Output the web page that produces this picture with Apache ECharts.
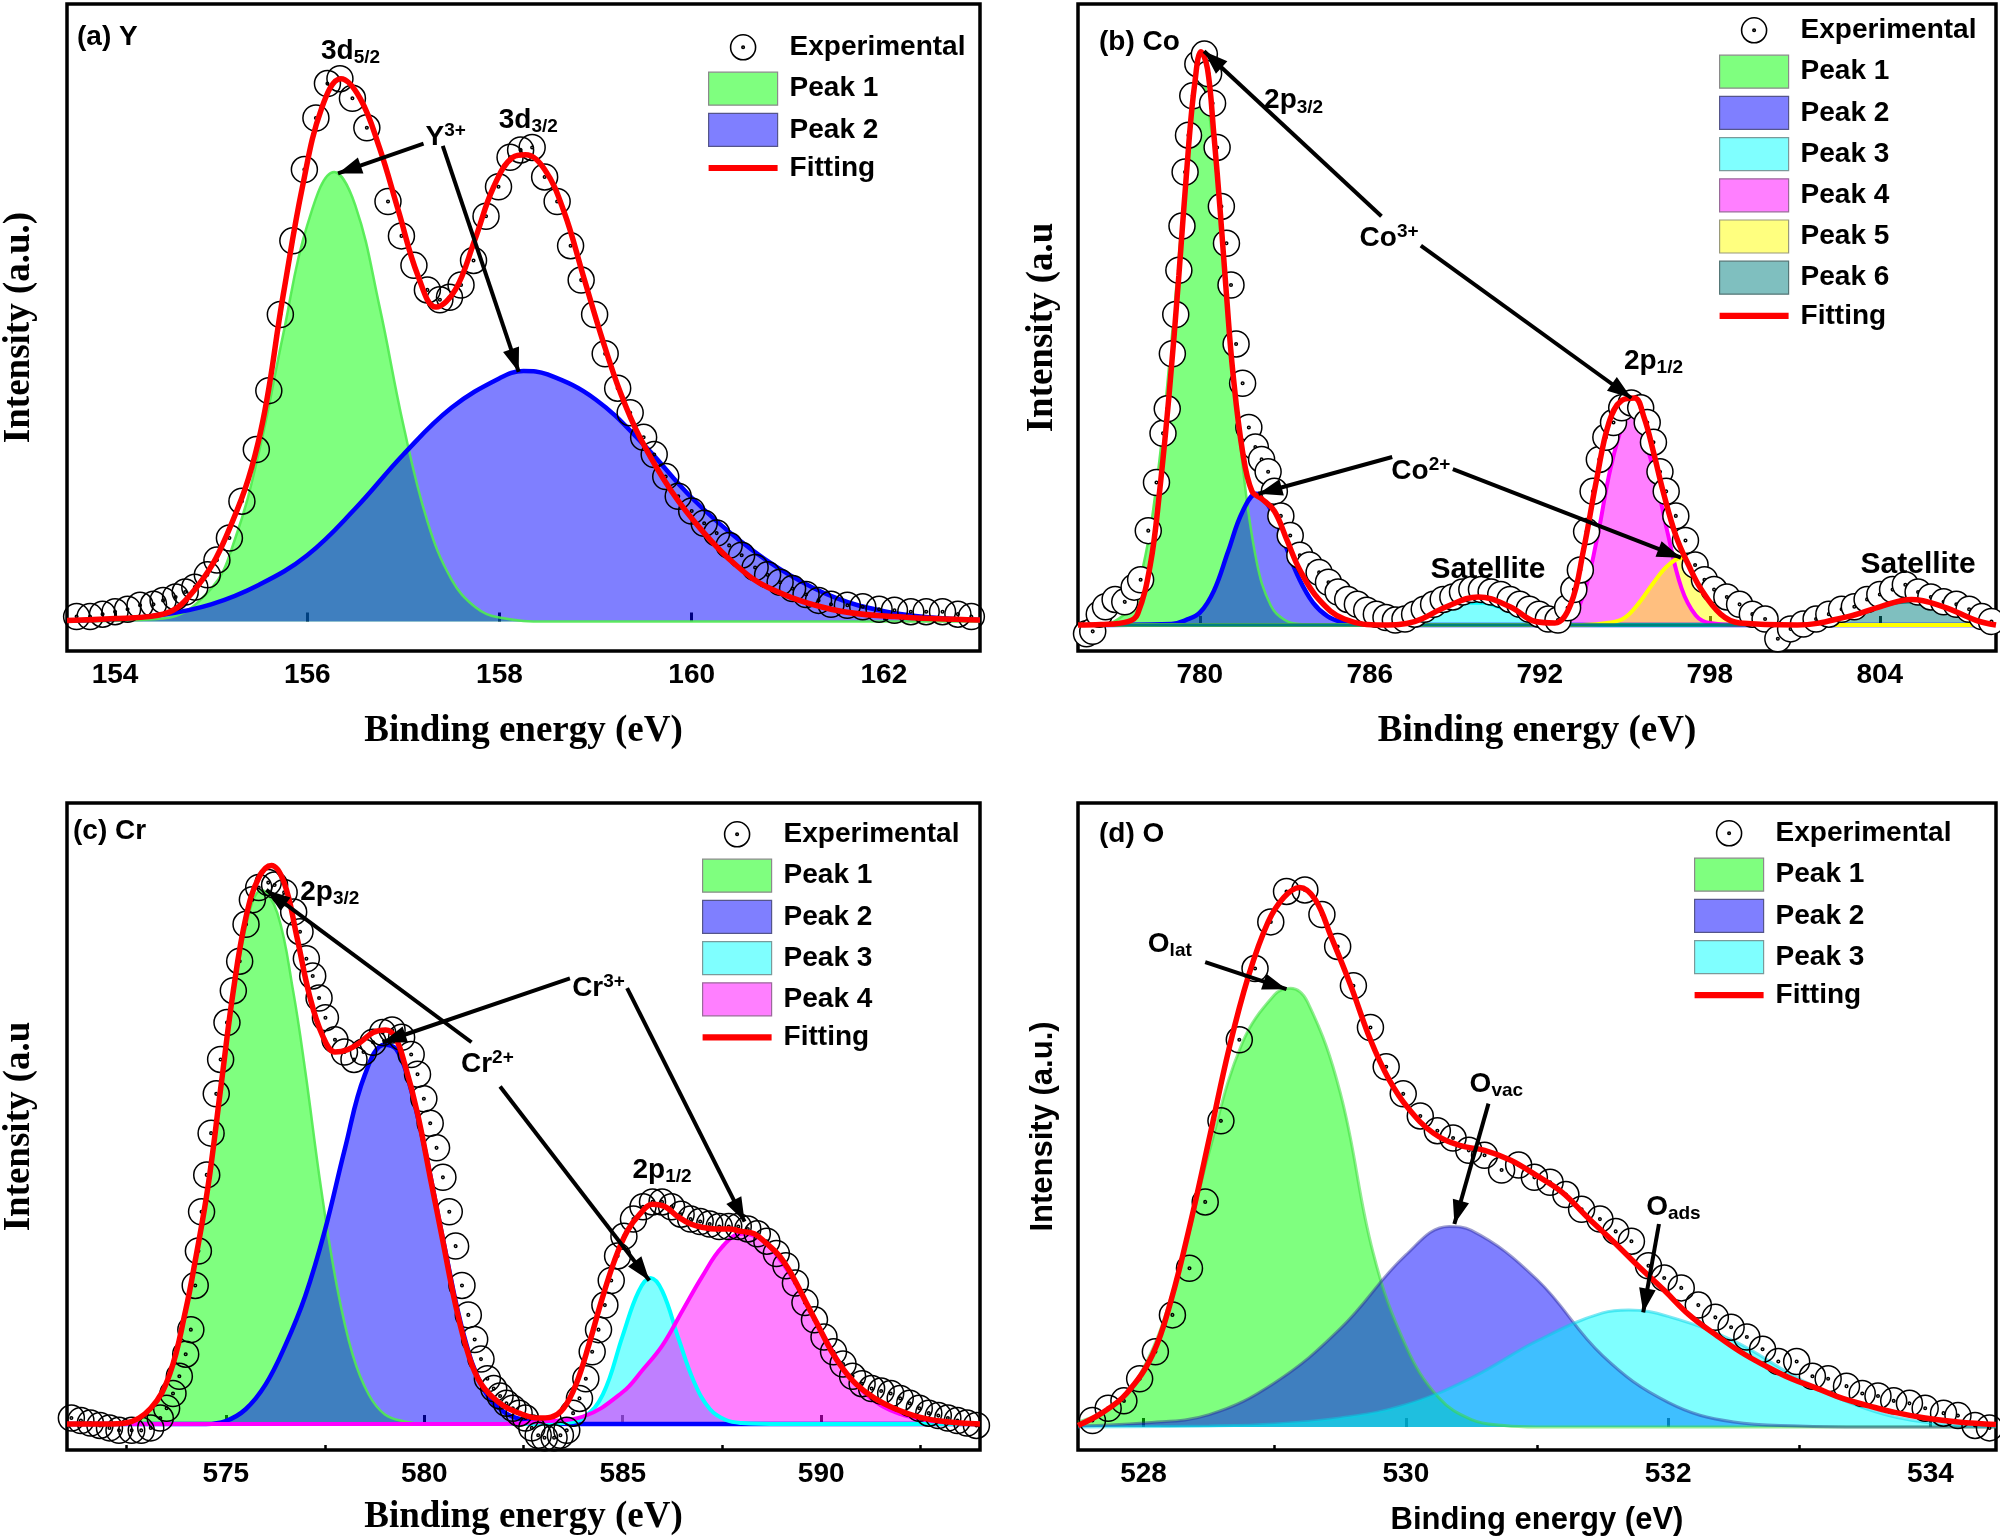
<!DOCTYPE html>
<html>
<head>
<meta charset="utf-8">
<title>XPS Y / Co / Cr / O</title>
<script src="https://cdn.jsdelivr.net/npm/echarts@6/dist/echarts.min.js"></script>
<style>
  html, body { margin: 0; padding: 0; background: #fff; }
  #main { width: 2000px; height: 1540px; }
</style>
</head>
<body>
<div id="main"></div>
<script>
// ---------- data: [binding energy (eV), intensity (a.u.)] ----------

// (a) Y 3d
var aExp = [[153.60,10],[153.74,10],[153.87,15],[154.00,20],[154.13,25],[154.26,33],[154.40,35],[154.50,43],[154.63,50],[154.73,60],[154.83,70],[154.96,95],[155.06,125],[155.19,170],[155.32,245],[155.47,350],[155.60,470],[155.72,625],[155.85,775],[155.97,920],[156.09,1025],[156.21,1095],[156.34,1105],[156.47,1065],[156.62,1005],[156.84,855],[156.98,785],[157.11,725],[157.25,675],[157.38,655],[157.48,660],[157.60,685],[157.73,735],[157.86,825],[157.99,885],[158.11,945],[158.22,960],[158.34,965],[158.47,905],[158.60,855],[158.74,765],[158.85,695],[158.99,625],[159.10,545],[159.23,475],[159.36,425],[159.50,375],[159.61,340],[159.73,295],[159.86,255],[160.00,225],[160.13,200],[160.26,180],[160.39,155],[160.52,135],[160.66,110],[160.79,95],[160.92,80],[161.05,67],[161.19,55],[161.32,43],[161.45,35],[161.62,33],[161.78,30],[161.95,25],[162.11,23],[162.28,20],[162.44,20],[162.61,20],[162.77,15],[162.91,10]];
var aPeak1 = [[153.5,0],[154.5,6],[155.0,67],[155.25,169],[155.5,347],[155.75,585],[156.0,807],[156.28,915],[156.5,847],[156.75,643],[157.0,400],[157.25,204],[157.5,86],[157.75,29],[158.0,8],[158.5,0],[163.0,0]];
var aPeak2 = [[153.5,2],[154.0,5],[154.5,14],[155.0,35],[155.5,75],[156.0,135],[156.5,230],[157.0,340],[157.5,435],[158.0,495],[158.25,510],[158.5,503],[159.0,452],[159.5,360],[160.0,252],[160.5,165],[161.0,97],[161.5,48],[162.0,21],[162.5,8],[163.0,3]];
var aFit = [[153.5,2],[154.0,6],[154.5,15],[154.83,65],[155.16,175],[155.49,365],[155.75,665],[155.95,885],[156.15,1045],[156.35,1105],[156.55,1065],[156.75,965],[156.95,835],[157.15,705],[157.34,640],[157.54,675],[157.74,775],[157.94,885],[158.14,945],[158.27,950],[158.47,920],[158.67,835],[158.87,705],[159.07,575],[159.26,465],[159.46,375],[159.79,265],[160.13,180],[160.46,115],[160.79,70],[161.45,25],[162.11,10],[163.0,3]];
var aTicks = [154, 156, 158, 160, 162];

// (b) Co 2p
var bExp = [[776.00,-18],[776.22,-13],[776.45,22],[776.67,37],[777.01,52],[777.35,47],[777.68,77],[777.91,92],[778.18,192],[778.47,290],[778.70,390],[778.85,440],[779.03,552],[779.15,632],[779.26,722],[779.37,812],[779.48,922],[779.60,997],[779.75,1077],[779.93,1142],[780.16,1162],[780.31,1122],[780.45,1062],[780.61,972],[780.76,852],[780.94,777],[781.10,692],[781.28,572],[781.51,492],[781.73,402],[781.96,362],[782.18,337],[782.41,312],[782.63,272],[782.86,222],[783.19,182],[783.53,142],[783.87,122],[784.21,107],[784.54,87],[784.88,67],[785.22,52],[785.56,42],[785.89,30],[786.23,22],[786.57,15],[786.90,10],[787.24,12],[787.58,22],[787.92,32],[788.25,42],[788.59,52],[788.93,57],[789.27,67],[789.60,72],[789.94,72],[790.28,67],[790.62,62],[790.95,52],[791.29,42],[791.63,32],[791.97,22],[792.30,12],[792.64,10],[792.98,35],[793.20,72],[793.43,112],[793.65,190],[793.88,272],[794.10,337],[794.33,382],[794.60,412],[794.89,442],[795.23,452],[795.56,442],[795.79,412],[796.01,372],[796.24,312],[796.46,272],[796.80,222],[797.14,172],[797.48,122],[797.81,92],[798.15,72],[798.60,57],[799.05,42],[799.50,22],[799.95,12],[800.40,-28],[800.85,-8],[801.30,2],[801.75,12],[802.20,22],[802.65,32],[803.10,37],[803.55,52],[804.00,62],[804.45,72],[804.90,82],[805.35,67],[805.80,57],[806.25,47],[806.70,42],[807.15,32],[807.60,17],[807.94,7]];
var bPeak1 = [[775.7,0],[776.5,2],[777.0,8],[777.5,35],[778.0,120],[778.5,300],[779.0,580],[779.5,900],[780.0,1132],[780.5,960],[781.0,640],[781.5,330],[782.0,130],[782.5,40],[783.0,10],[783.5,2],[784.5,0],[808.1,0]];
var bPeak2 = [[775.7,0],[779.0,2],[779.5,10],[780.0,25],[780.5,70],[781.0,150],[781.5,230],[782.0,267],[782.5,235],[783.0,165],[783.5,95],[784.0,45],[784.5,18],[785.0,6],[785.5,2],[786.5,0],[808.1,0]];
var bPeak3 = [[775.7,0],[786.5,0],[787.0,3],[787.5,10],[788.0,20],[788.5,32],[789.0,40],[789.5,45],[790.0,45],[790.5,38],[791.0,27],[791.5,15],[792.0,6],[792.5,2],[793.5,0],[808.1,0]];
var bPeak4 = [[775.7,0],[792.0,0],[793.0,10],[793.5,55],[794.0,170],[794.5,320],[795.0,420],[795.25,432],[795.5,410],[796.0,320],[796.5,190],[797.0,75],[797.5,20],[798.0,4],[799.0,0],[808.1,0]];
var bPeak5 = [[775.7,0],[793.5,0],[794.5,5],[795.0,15],[795.5,45],[796.0,85],[796.5,120],[797.0,137],[797.5,105],[798.0,50],[798.5,15],[799.0,4],[800.0,0],[808.1,0]];
var bPeak6 = [[775.7,0],[800.0,0],[801.0,2],[802.0,8],[803.0,22],[804.0,38],[805.0,47],[806.0,40],[807.0,25],[808.1,12]];
var bFit = [[775.7,0],[776.5,1],[777.46,7],[777.80,22],[778.25,122],[778.58,272],[778.92,472],[779.26,712],[779.60,972],[779.82,1102],[780.04,1167],[780.27,1132],[780.49,1002],[780.72,842],[780.94,672],[781.17,512],[781.51,352],[781.84,272],[782.18,257],[782.63,232],[783.08,172],[783.53,112],[784.20,52],[785.10,12],[786.46,0],[787.58,7],[788.70,37],[789.83,57],[790.95,37],[791.85,7],[792.53,4],[793.09,42],[793.54,152],[793.99,292],[794.44,412],[794.89,457],[795.34,462],[795.68,422],[796.01,352],[796.35,272],[796.80,182],[797.25,122],[797.70,72],[798.38,22],[799.05,4],[801.08,0],[802.87,17],[804.00,37],[805.12,52],[806.25,37],[807.37,10],[808.1,0]];
var bTicks = [780, 786, 792, 798, 804];

// (c) Cr 2p
var cExp = [[571.11,12],[571.35,7],[571.59,2],[571.83,-3],[572.07,-8],[572.31,-13],[572.63,-13],[572.87,-13],[573.11,-8],[573.35,12],[573.51,32],[573.67,62],[573.83,97],[573.99,142],[574.12,192],[574.23,282],[574.31,352],[574.39,432],[574.52,507],[574.63,592],[574.76,672],[574.87,742],[575.03,817],[575.19,882],[575.35,942],[575.51,1017],[575.67,1067],[575.83,1092],[576.07,1102],[576.23,1097],[576.47,1082],[576.71,1042],[576.87,1002],[577.03,947],[577.19,912],[577.35,867],[577.51,827],[577.75,782],[577.99,757],[578.23,742],[578.47,757],[578.71,777],[578.95,797],[579.19,802],[579.43,787],[579.67,752],[579.83,712],[579.99,662],[580.15,612],[580.31,562],[580.47,502],[580.63,432],[580.79,362],[580.95,282],[581.11,222],[581.27,172],[581.43,132],[581.59,92],[581.75,72],[581.91,57],[582.07,42],[582.23,32],[582.39,22],[582.55,12],[582.71,-8],[582.87,-23],[583.03,-28],[583.27,-28],[583.43,-23],[583.59,-13],[583.75,22],[583.91,52],[584.07,92],[584.23,147],[584.39,192],[584.55,242],[584.71,292],[584.87,342],[585.03,382],[585.27,417],[585.51,442],[585.75,452],[585.99,452],[586.23,442],[586.47,427],[586.71,417],[586.95,412],[587.19,407],[587.43,402],[587.67,402],[587.91,402],[588.15,397],[588.39,387],[588.63,372],[588.87,347],[589.11,322],[589.35,287],[589.59,247],[589.83,212],[590.07,177],[590.31,147],[590.55,122],[590.79,97],[591.03,82],[591.27,72],[591.51,67],[591.75,62],[591.99,52],[592.23,42],[592.47,32],[592.71,22],[592.95,17],[593.19,12],[593.43,7],[593.67,2],[593.91,-3]];
var cPeak1 = [[571.0,0],[572.0,0],[572.5,2],[573.0,25],[573.5,85],[574.0,230],[574.5,455],[575.0,760],[575.5,1010],[575.9,1087],[576.3,1040],[576.7,880],[577.0,720],[577.4,480],[577.8,280],[578.2,140],[578.6,60],[579.0,20],[579.5,5],[580.0,0],[594.0,0]];
var cPeak2 = [[571.0,0],[574.5,0],[575.0,6],[575.5,30],[576.0,80],[576.5,160],[577.0,260],[577.5,395],[578.0,560],[578.5,710],[579.0,772],[579.3,762],[579.6,700],[580.0,565],[580.5,365],[581.0,180],[581.5,70],[582.0,25],[582.5,8],[583.0,2],[584.0,0],[594.0,0]];
var cPeak3 = [[571.0,0],[583.0,0],[583.5,2],[584.0,12],[584.5,60],[585.0,180],[585.4,270],[585.7,297],[586.0,270],[586.4,175],[586.8,85],[587.2,30],[587.6,8],[588.0,2],[589.0,0],[594.0,0]];
var cPeak4 = [[571.0,0],[582.0,0],[583.0,5],[584.0,15],[585.0,65],[585.5,110],[586.0,160],[586.5,230],[587.0,300],[587.5,360],[588.0,387],[588.5,375],[589.0,330],[589.5,265],[590.0,190],[590.5,120],[591.0,70],[591.5,38],[592.0,20],[592.5,10],[593.0,4],[594.0,1]];
var cFit = [[571.0,0],[572.0,0],[572.47,2],[573.11,32],[573.59,102],[573.99,232],[574.23,332],[574.55,482],[574.87,682],[575.19,882],[575.51,1032],[575.83,1112],[576.15,1137],[576.47,1102],[576.79,992],[577.11,872],[577.43,792],[577.75,757],[578.07,762],[578.39,777],[578.71,797],[579.03,802],[579.27,787],[579.51,732],[579.83,632],[580.15,502],[580.47,372],[580.79,242],[581.11,142],[581.43,82],[581.91,42],[582.39,22],[582.87,12],[583.19,14],[583.51,32],[583.83,82],[584.15,162],[584.47,252],[584.79,332],[585.11,392],[585.43,427],[585.75,447],[586.07,442],[586.39,422],[586.71,407],[587.03,400],[587.35,397],[587.67,397],[587.99,392],[588.31,387],[588.63,367],[588.95,342],[589.27,302],[589.59,252],[589.91,202],[590.23,152],[590.55,112],[590.87,82],[591.35,52],[591.83,32],[592.47,14],[593.11,5],[594.0,0]];
var cTicks = [575, 580, 585, 590];
var cMinorTicks = [572.5, 577.5, 582.5, 587.5, 592.5];

// (d) O 1s
var dExp = [[527.61,13],[527.73,38],[527.85,53],[527.97,98],[528.09,153],[528.22,228],[528.35,323],[528.47,458],[528.59,623],[528.73,788],[528.85,933],[528.97,1028],[529.09,1090],[529.23,1093],[529.36,1043],[529.48,978],[529.60,898],[529.73,813],[529.85,733],[529.98,678],[530.11,633],[530.24,603],[530.36,588],[530.48,563],[530.60,553],[530.73,523],[530.86,533],[530.98,508],[531.10,498],[531.22,473],[531.34,443],[531.48,423],[531.60,398],[531.72,378],[531.85,328],[531.97,303],[532.10,283],[532.23,248],[532.36,223],[532.48,203],[532.60,183],[532.72,158],[532.84,133],[532.98,133],[533.10,103],[533.22,98],[533.36,83],[533.48,68],[533.60,63],[533.72,53],[533.84,48],[533.96,38],[534.10,28],[534.21,23],[534.34,3],[534.45,-2]];
var dPeak1 = [[527.5,10],[527.75,40],[528.0,120],[528.25,300],[528.5,560],[528.75,780],[529.0,880],[529.12,893],[529.25,865],[529.5,680],[529.75,355],[530.0,165],[530.25,60],[530.5,15],[530.75,3],[531.0,0],[534.5,0]];
var dPeak2 = [[527.5,2],[528.0,8],[528.5,25],[529.0,90],[529.5,200],[530.0,350],[530.33,408],[530.5,400],[531.0,300],[531.5,145],[532.0,50],[532.5,10],[533.0,2],[533.5,0],[534.5,0]];
var dPeak3 = [[527.5,0],[528.5,2],[529.0,6],[529.5,18],[530.0,45],[530.5,100],[531.0,175],[531.5,232],[531.7,238],[532.0,225],[532.5,175],[533.0,98],[533.5,38],[534.0,8],[534.5,1]];
var dFit = [[527.5,3],[527.68,28],[527.87,68],[528.07,148],[528.21,258],[528.36,418],[528.51,598],[528.65,768],[528.80,918],[528.95,1028],[529.07,1078],[529.19,1098],[529.31,1073],[529.43,998],[529.58,898],[529.73,788],[529.87,708],[530.02,648],[530.21,598],[530.41,573],[530.60,563],[530.80,543],[530.99,513],[531.19,478],[531.38,428],[531.58,378],[531.77,328],[531.97,278],[532.16,228],[532.36,188],[532.55,153],[532.75,123],[532.94,98],[533.14,78],[533.33,58],[533.53,43],[533.72,30],[533.96,18],[534.21,10],[534.5,5]];
var dTicks = [528, 530, 532, 534];
var dMinorTicks = [529, 531, 533];

// annotations: [eV, intensity, text] and arrows [fromEV, fromI, toEV, toI]
var aNotes = [[156.45, 1160, '3d{sub|5/2}'], [158.30, 1020, '3d{sub|3/2}'], [157.44, 985, 'Y{sup|3+}']];
var aArrows = [[157.21, 973, 156.32, 912], [157.41, 968, 158.20, 508]];
var bNotes = [[783.31, 1067, '2p{sub|3/2}'], [786.68, 787, 'Co{sup|3+}'], [796.01, 537, '2p{sub|1/2}'], [787.80, 312, 'Co{sup|2+}'], [790.17, 112, '{sat|Satellite}'], [805.35, 122, '{sat|Satellite}']];
var bArrows = [[786.41, 832, 780.15, 1168], [787.80, 772, 795.23, 462], [786.79, 342, 782.07, 267], [788.93, 317, 796.98, 137]];
var cNotes = [[577.62, 1082, '2p{sub|3/2}'], [584.39, 887, 'Cr{sup|3+}'], [581.59, 732, 'Cr{sup|2+}'], [585.99, 517, '2p{sub|1/2}']];
var cArrows = [[583.67, 907, 578.95, 777], [585.11, 887, 588.07, 412], [581.19, 777, 576.02, 1087], [581.91, 687, 585.67, 292]];
var dNotes = [[528.20, 983, 'O{sub|lat}'], [530.69, 698, 'O{sub|vac}'], [532.04, 448, 'O{sub|ads}']];
var dArrows = [[528.47, 946, 529.09, 891], [530.63, 658, 530.37, 413], [531.93, 413, 531.81, 233]];

// ---------- styles ----------
var SANS = '"Liberation Sans", Arial, sans-serif';
var SERIF = '"Liberation Serif", "Times New Roman", serif';

var dotCircle = 'path://M50,0A50,50 0 1 1 49.99,0ZM50,45A5,5 0 1 1 49.99,45Z';
var legendCircle = 'path://M-16,-16L-15.99,-16M116,116L116.01,116M50,0A50,50 0 1 1 49.99,0ZM50,45A5,5 0 1 1 49.99,45Z';
var legendLine = 'path://M0,0L100,0L100,9L0,9Z';
var arrowHead = 'path://M7,0L7.01,0M7,20L14,40L0,40Z';

var peakLook = {
  'Peak 1': { fill: 'rgba(0,255,0,0.5)', line: 'rgba(80,235,80,0.9)', width: 2.5, soft: 'rgba(60,220,60,0.55)', edge: '#8a8a8a' },
  'Peak 2': { fill: 'rgba(0,0,255,0.5)', line: '#0000ff', width: 4.5, soft: 'rgba(40,40,150,0.45)', edge: '#55558a' },
  'Peak 3': { fill: 'rgba(0,255,255,0.5)', line: '#00ffff', width: 4, soft: 'rgba(0,210,230,0.5)', edge: '#7a9a9a' },
  'Peak 4': { fill: 'rgba(255,0,255,0.5)', line: '#ff00ff', width: 4, soft: '#ff00ff', edge: '#9a6a9a' },
  'Peak 5': { fill: 'rgba(255,255,0,0.5)', line: '#ffff00', width: 4, soft: '#ffff00', edge: '#9a9a7a' },
  'Peak 6': { fill: 'rgba(0,128,128,0.5)', line: '#008080', width: 3.5, soft: '#008080', edge: '#557777' }
};

var panels = [
  { label: '(a) Y', left: 62, top: 4, xMin: 153.5, xMax: 163, yMin: -60, yMax: 1257,
    ticks: aTicks, minor: null, yName: 'Intensity (a.u.)', nameFont: SERIF, nameSize: 37, xGap: 62, yGap: 29,
    exp: aExp, expFill: 'rgba(255,255,255,0)', peaks: [['Peak 1', aPeak1], ['Peak 2', aPeak2]], fit: aFit,
    notes: aNotes, arrows: aArrows, legendLeft: 708, legendTop: 30, labelLeft: 77, labelTop: 23, soft: false },
  { label: '(b) Co', left: 1078, top: 4, xMin: 775.7, xMax: 808.1, yMin: -53, yMax: 1264,
    ticks: bTicks, minor: null, yName: 'Intensity (a.u', nameFont: SERIF, nameSize: 37, xGap: 62, yGap: 17,
    exp: bExp, expFill: '#ffffff', peaks: [['Peak 1', bPeak1], ['Peak 2', bPeak2], ['Peak 3', bPeak3], ['Peak 4', bPeak4], ['Peak 5', bPeak5], ['Peak 6', bPeak6]], fit: bFit,
    notes: bNotes, arrows: bArrows, legendLeft: 1719, legendTop: 13, labelLeft: 1099, labelTop: 28, soft: false },
  { label: '(c) Cr', left: 62, top: 803, xMin: 571, xMax: 594, yMin: -53, yMax: 1264,
    ticks: cTicks, minor: cMinorTicks, yName: 'Intensity (a.u', nameFont: SERIF, nameSize: 37, xGap: 49, yGap: 29,
    exp: cExp, expFill: 'rgba(255,255,255,0)', peaks: [['Peak 1', cPeak1], ['Peak 2', cPeak2], ['Peak 3', cPeak3], ['Peak 4', cPeak4]], fit: cFit,
    notes: cNotes, arrows: cArrows, legendLeft: 702, legendTop: 817, labelLeft: 73, labelTop: 817, soft: false },
  { label: '(d) O', left: 1078, top: 803, xMin: 527.5, xMax: 534.5, yMin: -47, yMax: 1270,
    ticks: dTicks, minor: dMinorTicks, yName: 'Intensity (a.u.)', nameFont: SANS, nameSize: 31, xGap: 55, yGap: 19,
    exp: dExp, expFill: 'rgba(255,255,255,0)', peaks: [['Peak 1', dPeak1], ['Peak 2', dPeak2], ['Peak 3', dPeak3]], fit: dFit,
    notes: dNotes, arrows: dArrows, legendLeft: 1694, legendTop: 816, labelLeft: 1099, labelTop: 820, soft: true }
];

var grids = [], xAxes = [], yAxes = [], series = [], legends = [], titles = [];

panels.forEach(function (p, i) {
  grids.push({
    left: p.left, top: p.top, width: 918, height: 647,
    show: true, borderColor: '#000', borderWidth: 3.5, backgroundColor: 'transparent'
  });

  xAxes.push({
    gridIndex: i, type: 'value', min: p.xMin, max: p.xMax,
    name: 'Binding energy (eV)', nameLocation: 'middle', nameGap: p.xGap,
    nameTextStyle: { color: '#000', fontWeight: 'bold', fontFamily: p.nameFont, fontSize: p.nameSize },
    axisLine: { show: false },
    axisTick: { show: true, inside: true, length: 9, customValues: p.ticks, lineStyle: { color: '#000', width: 3 } },
    axisLabel: { customValues: p.ticks, margin: 10, fontSize: 28, color: '#000', fontWeight: 'bold', fontFamily: SANS },
    splitLine: { show: false }
  });

  yAxes.push({
    gridIndex: i, type: 'value', min: p.yMin, max: p.yMax,
    name: p.yName, nameLocation: 'middle', nameGap: p.yGap,
    nameTextStyle: { color: '#000', fontWeight: 'bold', fontFamily: p.nameFont, fontSize: p.nameSize },
    axisLine: { show: false }, axisTick: { show: false }, axisLabel: { show: false }, splitLine: { show: false }
  });

  // fitted peak areas
  p.peaks.forEach(function (pk) {
    var look = peakLook[pk[0]];
    series.push({
      name: pk[0], type: 'line', xAxisIndex: i, yAxisIndex: i,
      data: pk[1], smooth: 0.4, symbol: 'none', silent: true, z: 2,
      lineStyle: { color: p.soft ? look.soft : look.line, width: p.soft ? 3 : look.width },
      areaStyle: { color: look.fill, opacity: 1 },
      itemStyle: { color: look.fill }
    });
  });

  // experimental points
  series.push({
    name: 'Experimental', type: 'scatter', xAxisIndex: i, yAxisIndex: i,
    data: p.exp, symbol: dotCircle, symbolSize: 26, silent: true, z: 3,
    itemStyle: { color: p.expFill, borderColor: '#000', borderWidth: 1.5, opacity: 1 }
  });

  // envelope + annotations
  series.push({
    name: 'Fitting', type: 'line', xAxisIndex: i, yAxisIndex: i,
    data: p.fit, smooth: 0.4, symbol: 'none', silent: true, z: 4,
    lineStyle: { color: '#ff0000', width: 5.5 },
    itemStyle: { color: '#ff0000' },
    markLine: {
      silent: true, symbol: ['none', arrowHead], symbolSize: 48, symbolKeepAspect: true,
      lineStyle: { color: '#000', width: 4, type: 'solid', opacity: 1 },
      label: { show: false },
      data: p.arrows.map(function (a) { return [{ coord: [a[0], a[1]] }, { coord: [a[2], a[3]] }]; })
    },
    markPoint: {
      silent: true, symbol: 'circle', symbolSize: 1,
      itemStyle: { color: 'rgba(0,0,0,0)' },
      label: {
        show: true, position: 'inside', color: '#000', fontSize: 28, fontWeight: 'bold', fontFamily: SANS, lineHeight: 32,
        rich: {
          sub: { fontSize: 19, fontWeight: 'bold', fontFamily: SANS, color: '#000', lineHeight: 19, verticalAlign: 'bottom' },
          sup: { fontSize: 19, fontWeight: 'bold', fontFamily: SANS, color: '#000', lineHeight: 19, verticalAlign: 'top' },
          sat: { fontSize: 30, fontWeight: 'bold', fontFamily: SANS, color: '#000', lineHeight: 32 }
        }
      },
      data: p.notes.map(function (n) { return { coord: [n[0], n[1]], label: { formatter: n[2] } }; })
    }
  });

  var items = [{ name: 'Experimental', icon: legendCircle, itemStyle: { color: 'rgba(255,255,255,0)', borderColor: '#000', borderWidth: 1.6 } }];
  p.peaks.forEach(function (pk) {
    var look = peakLook[pk[0]];
    items.push({ name: pk[0], icon: 'rect', itemStyle: { color: look.fill, borderColor: look.edge, borderWidth: 1.2 } });
  });
  items.push({ name: 'Fitting', icon: legendLine, itemStyle: { color: '#ff0000', borderWidth: 0 } });

  legends.push({
    left: p.legendLeft, top: p.legendTop, orient: 'vertical', padding: 0,
    itemWidth: 69, itemHeight: 33, itemGap: 7, selectedMode: false,
    textStyle: { color: '#000', fontSize: 28, fontWeight: 'bold', fontFamily: SANS, padding: [0, 0, 0, 7] },
    data: items
  });

  titles.push({
    text: p.label, left: p.labelLeft, top: p.labelTop, padding: 0,
    textStyle: { color: '#000', fontSize: 28, fontWeight: 'bold', fontFamily: SANS }
  });
});

// minor tick overlays for (c) and (d)
panels.forEach(function (p, i) {
  if (!p.minor) return;
  xAxes.push({
    gridIndex: i, type: 'value', min: p.xMin, max: p.xMax, position: 'bottom',
    axisLine: { show: false }, axisLabel: { show: false }, splitLine: { show: false },
    axisTick: { show: true, inside: true, length: 5, customValues: p.minor, lineStyle: { color: '#000', width: 2.5 } }
  });
});

var chart = echarts.init(document.getElementById('main'), null, { renderer: 'canvas' });
chart.setOption({
  backgroundColor: '#ffffff',
  animation: false,
  title: titles,
  legend: legends,
  grid: grids,
  xAxis: xAxes,
  yAxis: yAxes,
  series: series
});
</script>
</body>
</html>
